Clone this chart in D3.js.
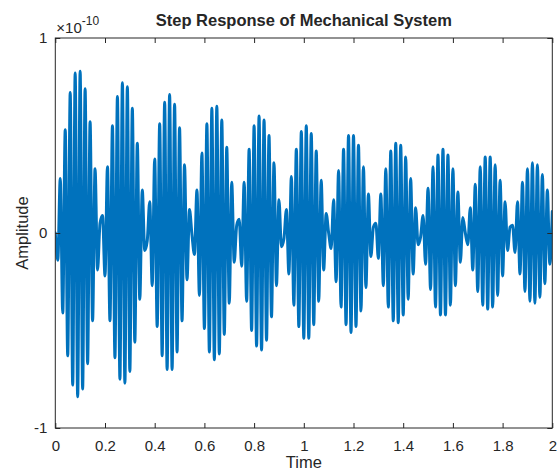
<!DOCTYPE html>
<html><head><meta charset="utf-8">
<script src="https://cdn.jsdelivr.net/npm/d3@7/dist/d3.min.js"></script>
<style>
body{margin:0;background:#fff}
svg{display:block}
text{font-family:"Liberation Sans",Arial,Helvetica,sans-serif;fill:#262626}
</style>
</head><body>
<svg id="chart" width="558" height="470"></svg>
<script>
// Time grid of the plotted extrema (s)
const timeStep = 0.01;
// Amplitude (x 1e-10) at each extremum of the response
const amplitude = [
  0,
  -0.14, 0.28, -0.41, 0.53, -0.63, 0.72, -0.78, 0.82, -0.84, 0.83,
  -0.80, 0.74, -0.67, 0.57, -0.45, 0.33, -0.19, 0.05, 0.09, -0.22,
  0.34, -0.45, 0.55, -0.64, 0.70, -0.75, 0.77, -0.77, 0.75, -0.71,
  0.64, -0.56, 0.46, -0.34, 0.22, -0.09, -0.04, 0.16, -0.27, 0.38,
  -0.48, 0.56, -0.63, 0.67, -0.70, 0.71, -0.70, 0.66, -0.61, 0.54,
  -0.45, 0.35, -0.24, 0.12, -0.01, -0.11, 0.22, -0.32, 0.41, -0.49,
  0.56, -0.61, 0.64, -0.65, 0.65, -0.62, 0.58, -0.52, 0.44, -0.36,
  0.26, -0.15, 0.04, 0.07, -0.17, 0.26, -0.35, 0.43, -0.50, 0.55,
  -0.58, 0.60, -0.60, 0.58, -0.55, 0.50, -0.43, 0.36, -0.27, 0.17,
  -0.07, -0.03, 0.12, -0.21, 0.29, -0.37, 0.43, -0.48, 0.52, -0.54,
  0.55, -0.54, 0.51, -0.47, 0.42, -0.35, 0.27, -0.19, 0.10, 0.00,
  -0.08, 0.17, -0.25, 0.32, -0.38, 0.43, -0.47, 0.50, -0.51, 0.50,
  -0.48, 0.45, -0.40, 0.34, -0.28, 0.20, -0.12, 0.03, 0.05, -0.13,
  0.20, -0.27, 0.33, -0.38, 0.42, -0.45, 0.46, -0.46, 0.45, -0.42,
  0.39, -0.34, 0.28, -0.21, 0.13, -0.06, -0.02, 0.09, -0.16, 0.23,
  -0.29, 0.34, -0.38, 0.40, -0.42, 0.43, -0.42, 0.40, -0.37, 0.33,
  -0.27, 0.21, -0.15, 0.08, 0.00, -0.06, 0.13, -0.19, 0.25, -0.30,
  0.34, -0.37, 0.39, -0.39, 0.39, -0.38, 0.35, -0.32, 0.27, -0.22,
  0.16, -0.09, 0.03, 0.04, -0.10, 0.16, -0.21, 0.26, -0.30, 0.33,
  -0.35, 0.36, -0.36, 0.35, -0.33, 0.30, -0.26, 0.22, -0.16, 0.11
];
const xTicks = [0, 0.2, 0.4, 0.6, 0.8, 1, 1.2, 1.4, 1.6, 1.8, 2];
const xTickLabels = ["0", "0.2", "0.4", "0.6", "0.8", "1", "1.2", "1.4", "1.6", "1.8", "2"];
const yTicks = [-1, 0, 1];
const yTickLabels = ["-1", "0", "1"];
const xDomain = [0, 2];
const yDomain = [-1, 1];
const titleText = "Step Response of Mechanical System";
const xLabelText = "Time";
const yLabelText = "Amplitude";
const exponentBase = "\u00d710";
const exponentPower = "-10";

const svg = d3.select("#chart");
const m = {left: 55.3, right: 552.3, top: 38, bottom: 428};
const ink = "#262626";

const x = d3.scaleLinear().domain(xDomain).range([m.left, m.right]);
const y = d3.scaleLinear().domain(yDomain).range([m.bottom, m.top]);

const points = amplitude.map((v, i) => ({t: i * timeStep, v}));

svg.append("defs").append("clipPath").attr("id", "clip")
  .append("rect").attr("x", m.left).attr("y", m.top)
  .attr("width", m.right - m.left).attr("height", m.bottom - m.top);

const line = d3.line().x(d => x(d.t)).y(d => y(d.v)).curve(d3.curveMonotoneX);
svg.append("path").datum(points)
  .attr("clip-path", "url(#clip)")
  .attr("d", line)
  .attr("fill", "none")
  .attr("stroke", "#0072BD")
  .attr("stroke-width", 3)
  .attr("stroke-linejoin", "round")
  .attr("stroke-linecap", "round");

function styleAxis(g) {
  g.select(".domain").remove();
  g.selectAll(".tick line").attr("stroke", ink).attr("stroke-width", 1);
  g.selectAll(".tick text").attr("fill", ink)
    .style("font-size", "15px")
    .attr("font-family", null);
}

svg.append("g").attr("transform", `translate(0,${m.bottom})`)
  .call(d3.axisBottom(x).tickValues(xTicks).tickFormat((d, i) => xTickLabels[i])
    .tickSizeInner(-5).tickSizeOuter(0).tickPadding(12))
  .call(styleAxis);
svg.append("g").attr("transform", `translate(0,${m.top})`)
  .call(d3.axisTop(x).tickValues(xTicks).tickFormat("")
    .tickSizeInner(-5).tickSizeOuter(0))
  .call(styleAxis);
svg.append("g").attr("transform", `translate(${m.left},0)`)
  .call(d3.axisLeft(y).tickValues(yTicks).tickFormat((d, i) => yTickLabels[i])
    .tickSizeInner(-5).tickSizeOuter(0).tickPadding(8))
  .call(styleAxis);
svg.append("g").attr("transform", `translate(${m.right},0)`)
  .call(d3.axisRight(y).tickValues(yTicks).tickFormat("")
    .tickSizeInner(-5).tickSizeOuter(0))
  .call(styleAxis);

svg.append("rect")
  .attr("x", m.left).attr("y", m.top)
  .attr("width", m.right - m.left).attr("height", m.bottom - m.top)
  .attr("fill", "none").attr("stroke", ink).attr("stroke-width", 1);

svg.append("text").attr("x", (m.left + m.right) / 2).attr("y", 26)
  .attr("text-anchor", "middle")
  .style("font-size", "16.5px").style("font-weight", "bold")
  .attr("fill", "#000")
  .text(titleText);

const ex = svg.append("text").attr("x", m.left + 1).attr("y", 33)
  .style("font-size", "15px").attr("fill", ink);
ex.append("tspan").text(exponentBase);
ex.append("tspan").attr("dy", -8).style("font-size", "12px").text(exponentPower);

svg.append("text").attr("x", (m.left + m.right) / 2).attr("y", 468)
  .attr("text-anchor", "middle").style("font-size", "16.5px").text(xLabelText);
svg.append("text")
  .attr("transform", `translate(28,${(m.top + m.bottom) / 2}) rotate(-90)`)
  .attr("text-anchor", "middle").style("font-size", "16.5px").text(yLabelText);
</script>
</body></html>
